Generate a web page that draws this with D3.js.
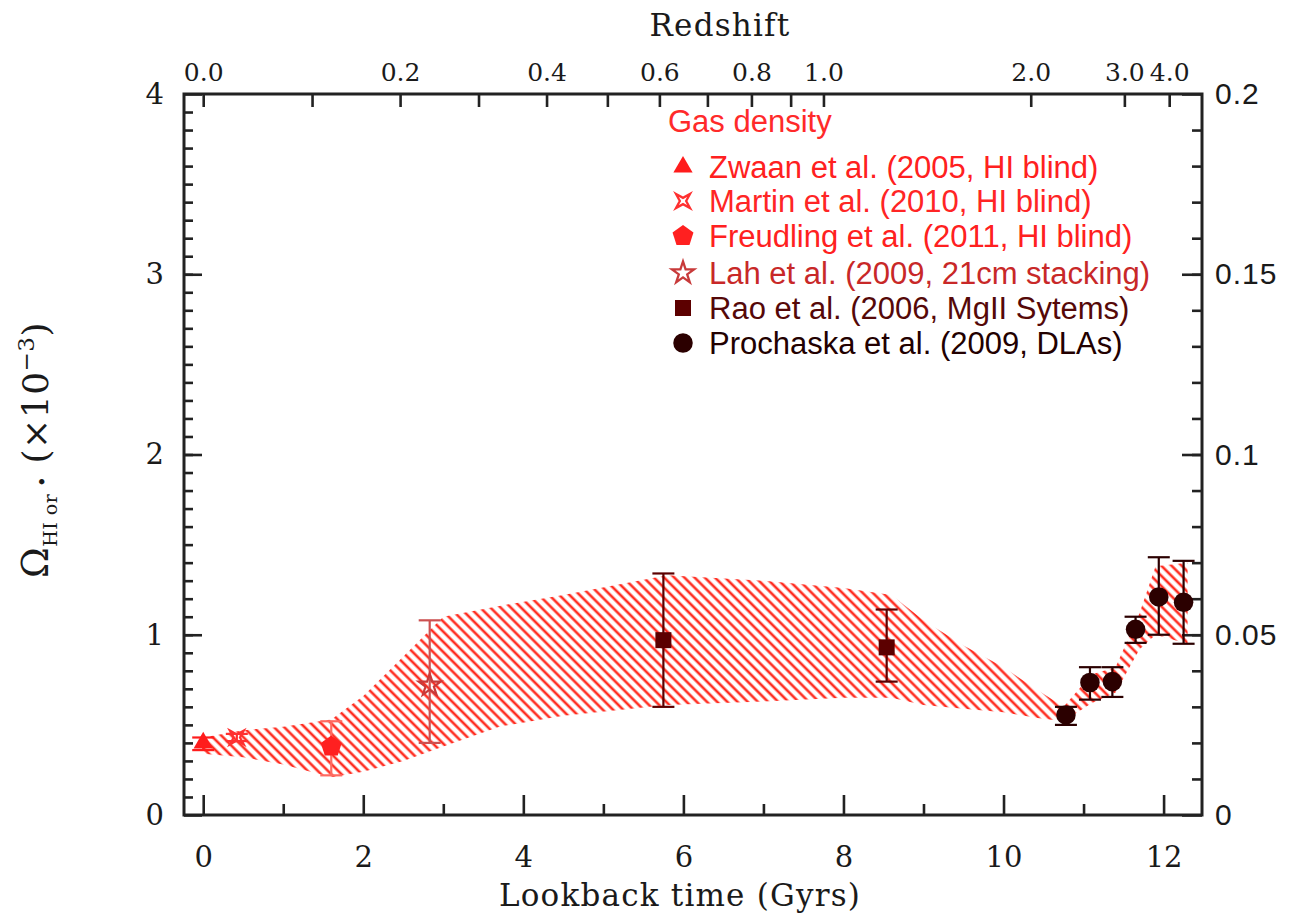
<!DOCTYPE html>
<html lang="en">
<head>
<meta charset="UTF-8">
<title>HI gas density vs lookback time</title>
<script src="https://d3js.org/d3.v7.min.js"></script>
<style>
  body { margin: 0; background: #ffffff; }
  svg { display: block; }
  .axis path.domain { display: none; }
  .axis line { stroke: #222; stroke-width: 2.6; }
  .axis text { font-family: 'DejaVu Serif', serif; font-size: 29px; fill: #1a1a1a; }
  .axis.top text { font-size: 25px; }
  .axis.right text { font-family: 'Liberation Sans', Arial, sans-serif; font-size: 30px; letter-spacing: 1px; }
  .title { font-family: 'DejaVu Serif', serif; font-size: 31px; fill: #1a1a1a; letter-spacing: 1.2px; }
  .legend text { font-family: 'Liberation Sans', Arial, sans-serif; font-size: 31px; }
</style>
</head>
<body>
<svg width="1290" height="915"></svg>
<script>
// hatched band (lookback time, lower and upper edge)
const bandTime  = [0, 0.5, 1.0, 1.6, 2.0, 2.5, 3.0, 3.7, 4.5, 5.8, 7.0, 8.0, 8.6, 9.0, 9.5, 10.0, 10.4, 10.75, 11.1, 11.4, 11.7, 11.9, 12.3];
const bandUpper = [0.43, 0.47, 0.49, 0.53, 0.66, 0.88, 1.10, 1.16, 1.22, 1.33, 1.30, 1.26, 1.22, 1.08, 0.94, 0.82, 0.70, 0.60, 0.78, 0.82, 1.12, 1.38, 1.40];
const bandLower = [0.34, 0.32, 0.28, 0.21, 0.24, 0.30, 0.38, 0.49, 0.55, 0.61, 0.63, 0.65, 0.65, 0.61, 0.59, 0.57, 0.54, 0.52, 0.62, 0.68, 0.92, 1.00, 0.95];

// measurements: [time, value, low, high]
const zwaan     = [[0.0, 0.40, 0.36, 0.43]];
const martin    = [[0.42, 0.43, 0.41, 0.45]];
const freudling = [[1.6, 0.38, 0.22, 0.52]];
const lah       = [[2.83, 0.72, 0.40, 1.08]];
const rao       = [[5.75, 0.97, 0.60, 1.34], [8.54, 0.93, 0.74, 1.14]];
const prochaska = [[10.78, 0.555, 0.50, 0.60], [11.08, 0.735, 0.64, 0.82], [11.36, 0.74, 0.655, 0.82],
                   [11.65, 1.03, 0.955, 1.10], [11.94, 1.21, 1.00, 1.43], [12.25, 1.18, 0.95, 1.41]];

// top axis: redshift labels and the lookback time where they sit
const zMajorLabels = ["0.0", "0.2", "0.4", "0.6", "0.8", "1.0", "2.0", "3.0", "4.0"];
const zMajorTimes  = [0.0, 2.46, 4.29, 5.70, 6.85, 7.75, 10.34, 11.51, 12.07];
const zMinorTimes  = [1.36, 3.44, 5.05, 6.30, 7.34];

const legendLabels = ["Zwaan et al. (2005, HI blind)", "Martin et al. (2010, HI blind)",
  "Freudling et al. (2011, HI blind)", "Lah et al. (2009, 21cm stacking)",
  "Rao et al. (2006, MgII Sytems)", "Prochaska et al. (2009, DLAs)"];

const svg = d3.select("svg");
const padL = 184, padR = 1202, padT = 94, padB = 815;

const x = d3.scaleLinear().domain([-0.24, 12.48]).range([padL, padR]);
const y = d3.scaleLinear().domain([0, 4]).range([padB, padT]);
const yR = d3.scaleLinear().domain([0, 0.2]).range([padB, padT]);

// hatch pattern
const defs = svg.append("defs");
const pat = defs.append("pattern")
  .attr("id", "hatch")
  .attr("patternUnits", "userSpaceOnUse")
  .attr("width", 7.2).attr("height", 7.2)
  .attr("patternTransform", "rotate(-45)");
pat.append("line")
  .attr("x1", 3.6).attr("y1", 0).attr("x2", 3.6).attr("y2", 7.2)
  .attr("stroke", "#ff2e22").attr("stroke-width", 2.6);

const band = bandTime.map((t, i) => ({ t: t, lo: bandLower[i], hi: bandUpper[i] }));
svg.append("path")
  .datum(band)
  .attr("fill", "url(#hatch)")
  .attr("d", d3.area().x(d => x(d.t)).y0(d => y(d.lo)).y1(d => y(d.hi)));

// axes
function drawAxis(axis, cls, tr) {
  return svg.append("g").attr("class", "axis " + cls).attr("transform", tr).call(axis);
}

drawAxis(d3.axisBottom(x).tickValues([0, 2, 4, 6, 8, 10, 12]).tickSizeInner(-20).tickSizeOuter(0).tickPadding(31)
  .tickFormat(d3.format("d")), "bottom", `translate(0,${padB})`);
drawAxis(d3.axisBottom(x).tickValues([1, 3, 5, 7, 9, 11]).tickSizeInner(-11).tickSizeOuter(0).tickFormat(""),
  "bottom", `translate(0,${padB})`);

drawAxis(d3.axisLeft(y).tickValues([0, 1, 2, 3, 4]).tickSizeInner(-18).tickSizeOuter(0).tickPadding(20)
  .tickFormat(d3.format("d")), "left", `translate(${padL},0)`);
drawAxis(d3.axisLeft(y).tickValues(d3.range(1, 40).map(i => i / 10)).tickSizeInner(-9).tickSizeOuter(0).tickFormat(""),
  "left", `translate(${padL},0)`);

drawAxis(d3.axisRight(yR).tickValues([0, 0.05, 0.1, 0.15, 0.2]).tickSizeInner(-20).tickSizeOuter(0).tickPadding(13)
  .tickFormat(d => d === 0 ? "0" : String(+d.toFixed(2))), "right", `translate(${padR},0)`);
drawAxis(d3.axisRight(yR).tickValues(d3.range(1, 20).map(i => i / 100)).tickSizeInner(-10).tickSizeOuter(0).tickFormat(""),
  "right", `translate(${padR},0)`);

drawAxis(d3.axisTop(x).tickValues(zMajorTimes).tickSizeInner(-13).tickSizeOuter(0).tickPadding(13)
  .tickFormat((d, i) => zMajorLabels[i]), "top", `translate(0,${padT})`);
drawAxis(d3.axisTop(x).tickValues(zMinorTimes).tickSizeInner(-13).tickSizeOuter(0).tickFormat(""),
  "top", `translate(0,${padT})`);

svg.append("rect")
  .attr("x", padL).attr("y", padT)
  .attr("width", padR - padL).attr("height", padB - padT)
  .attr("fill", "none").attr("stroke", "#222").attr("stroke-width", 3);

// titles
svg.append("text").attr("class", "title")
  .attr("x", 720).attr("y", 36).attr("text-anchor", "middle").text("Redshift");
svg.append("text").attr("class", "title")
  .attr("x", 680).attr("y", 906).attr("text-anchor", "middle").text("Lookback time (Gyrs)");

const yl = svg.append("text").attr("class", "title")
  .style("letter-spacing", "0.5px")
  .attr("transform", "translate(48,578) rotate(-90)");
yl.append("tspan").attr("font-size", 37).text("Ω");
yl.append("tspan").attr("font-size", 19).attr("dy", 9).text("HI or ");
yl.append("tspan").attr("font-size", 19).attr("dy", -8).text("•");
yl.append("tspan").attr("font-size", 36).attr("dy", -1).text(" (×10");
yl.append("tspan").attr("font-size", 23).attr("dy", -14).text("−3");
yl.append("tspan").attr("font-size", 36).attr("dy", 14).text(")");

// marker shapes
function pentagon(r) {
  const pts = d3.range(5).map(i => {
    const a = -Math.PI / 2 + i * 2 * Math.PI / 5;
    return [r * Math.cos(a), r * Math.sin(a)];
  });
  return "M" + pts.map(p => p.join(",")).join("L") + "Z";
}
function concaveSquare(s) {
  const k = s * 0.45;
  return `M${-s},${-s}L0,${-k}L${s},${-s}L${k},0L${s},${s}L0,${k}L${-s},${s}L${-k},0Z`;
}

const series = [
  { data: zwaan, color: "#ff1c1c", err: "#ff1c1c", label: "#ff2020",
    shape: d3.symbol(d3.symbolTriangle, 160)(), fill: true },
  { data: martin, color: "#ff3030", err: "#ff3030", label: "#ff2525",
    shape: concaveSquare(7), fill: false },
  { data: freudling, color: "#ff2020", err: "#ff6a60", label: "#ff2020",
    shape: pentagon(11), fill: true },
  { data: lah, color: "#c83a3a", err: "#cc5050", label: "#c82828",
    shape: d3.symbol(d3.symbolStar, 150)(), fill: false },
  { data: rao, color: "#5c0000", err: "#5c0000", label: "#550808",
    shape: d3.symbol(d3.symbolSquare, 256)(), fill: true },
  { data: prochaska, color: "#2b0000", err: "#2b0000", label: "#220000",
    shape: d3.symbol(d3.symbolCircle, 300)(), fill: true }
];

series.forEach(s => {
  const g = svg.append("g");
  const eb = g.selectAll("g.eb").data(s.data).enter().append("g")
    .attr("stroke", s.err).attr("stroke-width", 2.2);
  eb.append("line").attr("x1", d => x(d[0])).attr("x2", d => x(d[0]))
    .attr("y1", d => y(d[2])).attr("y2", d => y(d[3]));
  [2, 3].forEach(k => {
    eb.append("line").attr("x1", d => x(d[0]) - 11).attr("x2", d => x(d[0]) + 11)
      .attr("y1", d => y(d[k])).attr("y2", d => y(d[k]));
  });
  g.selectAll("path.mk").data(s.data).enter().append("path")
    .attr("class", "mk")
    .attr("d", s.shape)
    .attr("transform", d => `translate(${x(d[0])},${y(d[1])})`)
    .attr("fill", s.fill ? s.color : "none")
    .attr("stroke", s.color)
    .attr("stroke-width", s.fill ? 0 : 2.2);
});

// legend
const lg = svg.append("g").attr("class", "legend");
lg.append("text").attr("x", 668).attr("y", 121).attr("dominant-baseline", "central")
  .attr("fill", "#ff2a2a").text("Gas density");
const rowY = [167, 201, 236, 273, 308, 343];
series.forEach((s, i) => {
  lg.append("path").attr("d", s.shape)
    .attr("transform", `translate(683,${rowY[i]})`)
    .attr("fill", s.fill ? s.color : "none")
    .attr("stroke", s.color).attr("stroke-width", s.fill ? 0 : 2.3);
  lg.append("text").attr("x", 709).attr("y", rowY[i]).attr("dominant-baseline", "central")
    .attr("fill", s.label).text(legendLabels[i]);
});
</script>
</body>
</html>
